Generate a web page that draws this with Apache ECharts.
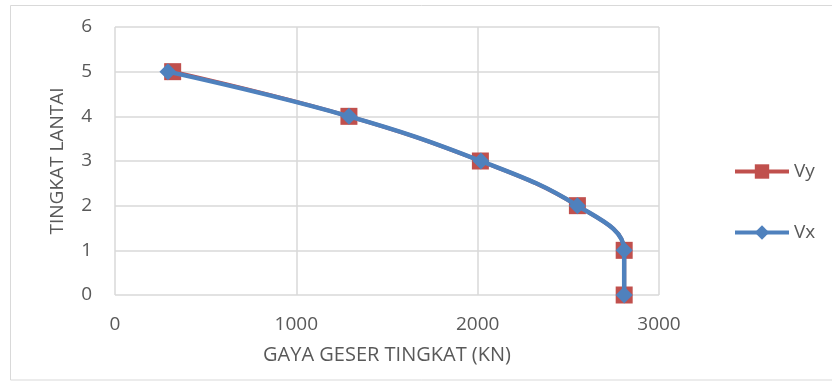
<!DOCTYPE html>
<html>
<head>
<meta charset="utf-8">
<style>
  html, body { margin: 0; padding: 0; background: #fff; }
  #chart { width: 832px; height: 383px; }
</style>
<script src="https://cdn.jsdelivr.net/npm/echarts@6/dist/echarts.min.js"></script>
</head>
<body>
<div id="chart"></div>
<script>
// Storey levels (y) and storey shear forces in kN (x)
const floors = [5, 4, 3, 2, 1, 0];
const shearVy = [318, 1290, 2015, 2550, 2808, 2808];
const shearVx = [292, 1290, 2018, 2550, 2808, 2808];
const xTicks = [0, 1000, 2000, 3000];
const yTicks = [0, 1, 2, 3, 4, 5, 6];

const pairs = (xs) => xs.map((v, i) => [v, floors[i]]);
const FONT = '"Open Sans", "Noto Sans", sans-serif';
const TEXT = '#595959';
const GRID = '#d9d9d9';

const chart = echarts.init(document.getElementById('chart'));
chart.setOption({
  animation: false,
  graphic: [{
    type: 'rect',
    shape: { x: 10.5, y: 5.5, width: 830, height: 374.5 },
    style: { fill: 'none', stroke: GRID, lineWidth: 1 },
    silent: true
  }],
  grid: { left: 115, right: 173, top: 27, bottom: 88, containLabel: false },
  xAxis: {
    type: 'value',
    min: xTicks[0], max: xTicks[xTicks.length - 1], interval: 1000,
    name: 'GAYA GESER TINGKAT (KN)',
    nameLocation: 'middle', nameGap: 50,
    nameTextStyle: { color: TEXT, fontSize: 20, fontFamily: FONT },
    axisLine: { show: false }, axisTick: { show: false },
    axisLabel: { color: TEXT, fontSize: 19, fontFamily: FONT, margin: 20,
                 formatter: (v) => String(v) },
    splitLine: { show: true, lineStyle: { color: GRID, width: 1.5 } }
  },
  yAxis: {
    type: 'value',
    min: yTicks[0], max: yTicks[yTicks.length - 1], interval: 1,
    name: 'TINGKAT LANTAI',
    nameLocation: 'middle', nameGap: 48, nameRotate: 90,
    nameTextStyle: { color: TEXT, fontSize: 19, fontFamily: FONT },
    axisLine: { show: false }, axisTick: { show: false },
    axisLabel: { color: TEXT, fontSize: 19, fontFamily: FONT, margin: 23 },
    splitLine: { show: true, lineStyle: { color: GRID, width: 1.5 } }
  },
  legend: {
    orient: 'vertical', left: 728, top: 157, itemGap: 42,
    itemWidth: 54, itemHeight: 18,
    textStyle: { color: TEXT, fontSize: 19, fontFamily: FONT },
    lineStyle: { width: 4 },
    data: ['Vy', 'Vx']
  },
  series: [
    {
      name: 'Vy', type: 'line', data: pairs(shearVy), smooth: 0.4,
      symbol: 'rect', symbolSize: 17,
      lineStyle: { color: '#C0504D', width: 4 },
      itemStyle: { color: '#C0504D' }, z: 2
    },
    {
      name: 'Vx', type: 'line', data: pairs(shearVx), smooth: 0.4,
      symbol: 'diamond', symbolSize: 17,
      lineStyle: { color: '#4F81BD', width: 4.5 },
      itemStyle: { color: '#4F81BD' }, z: 3
    }
  ]
});
</script>
</body>
</html>
